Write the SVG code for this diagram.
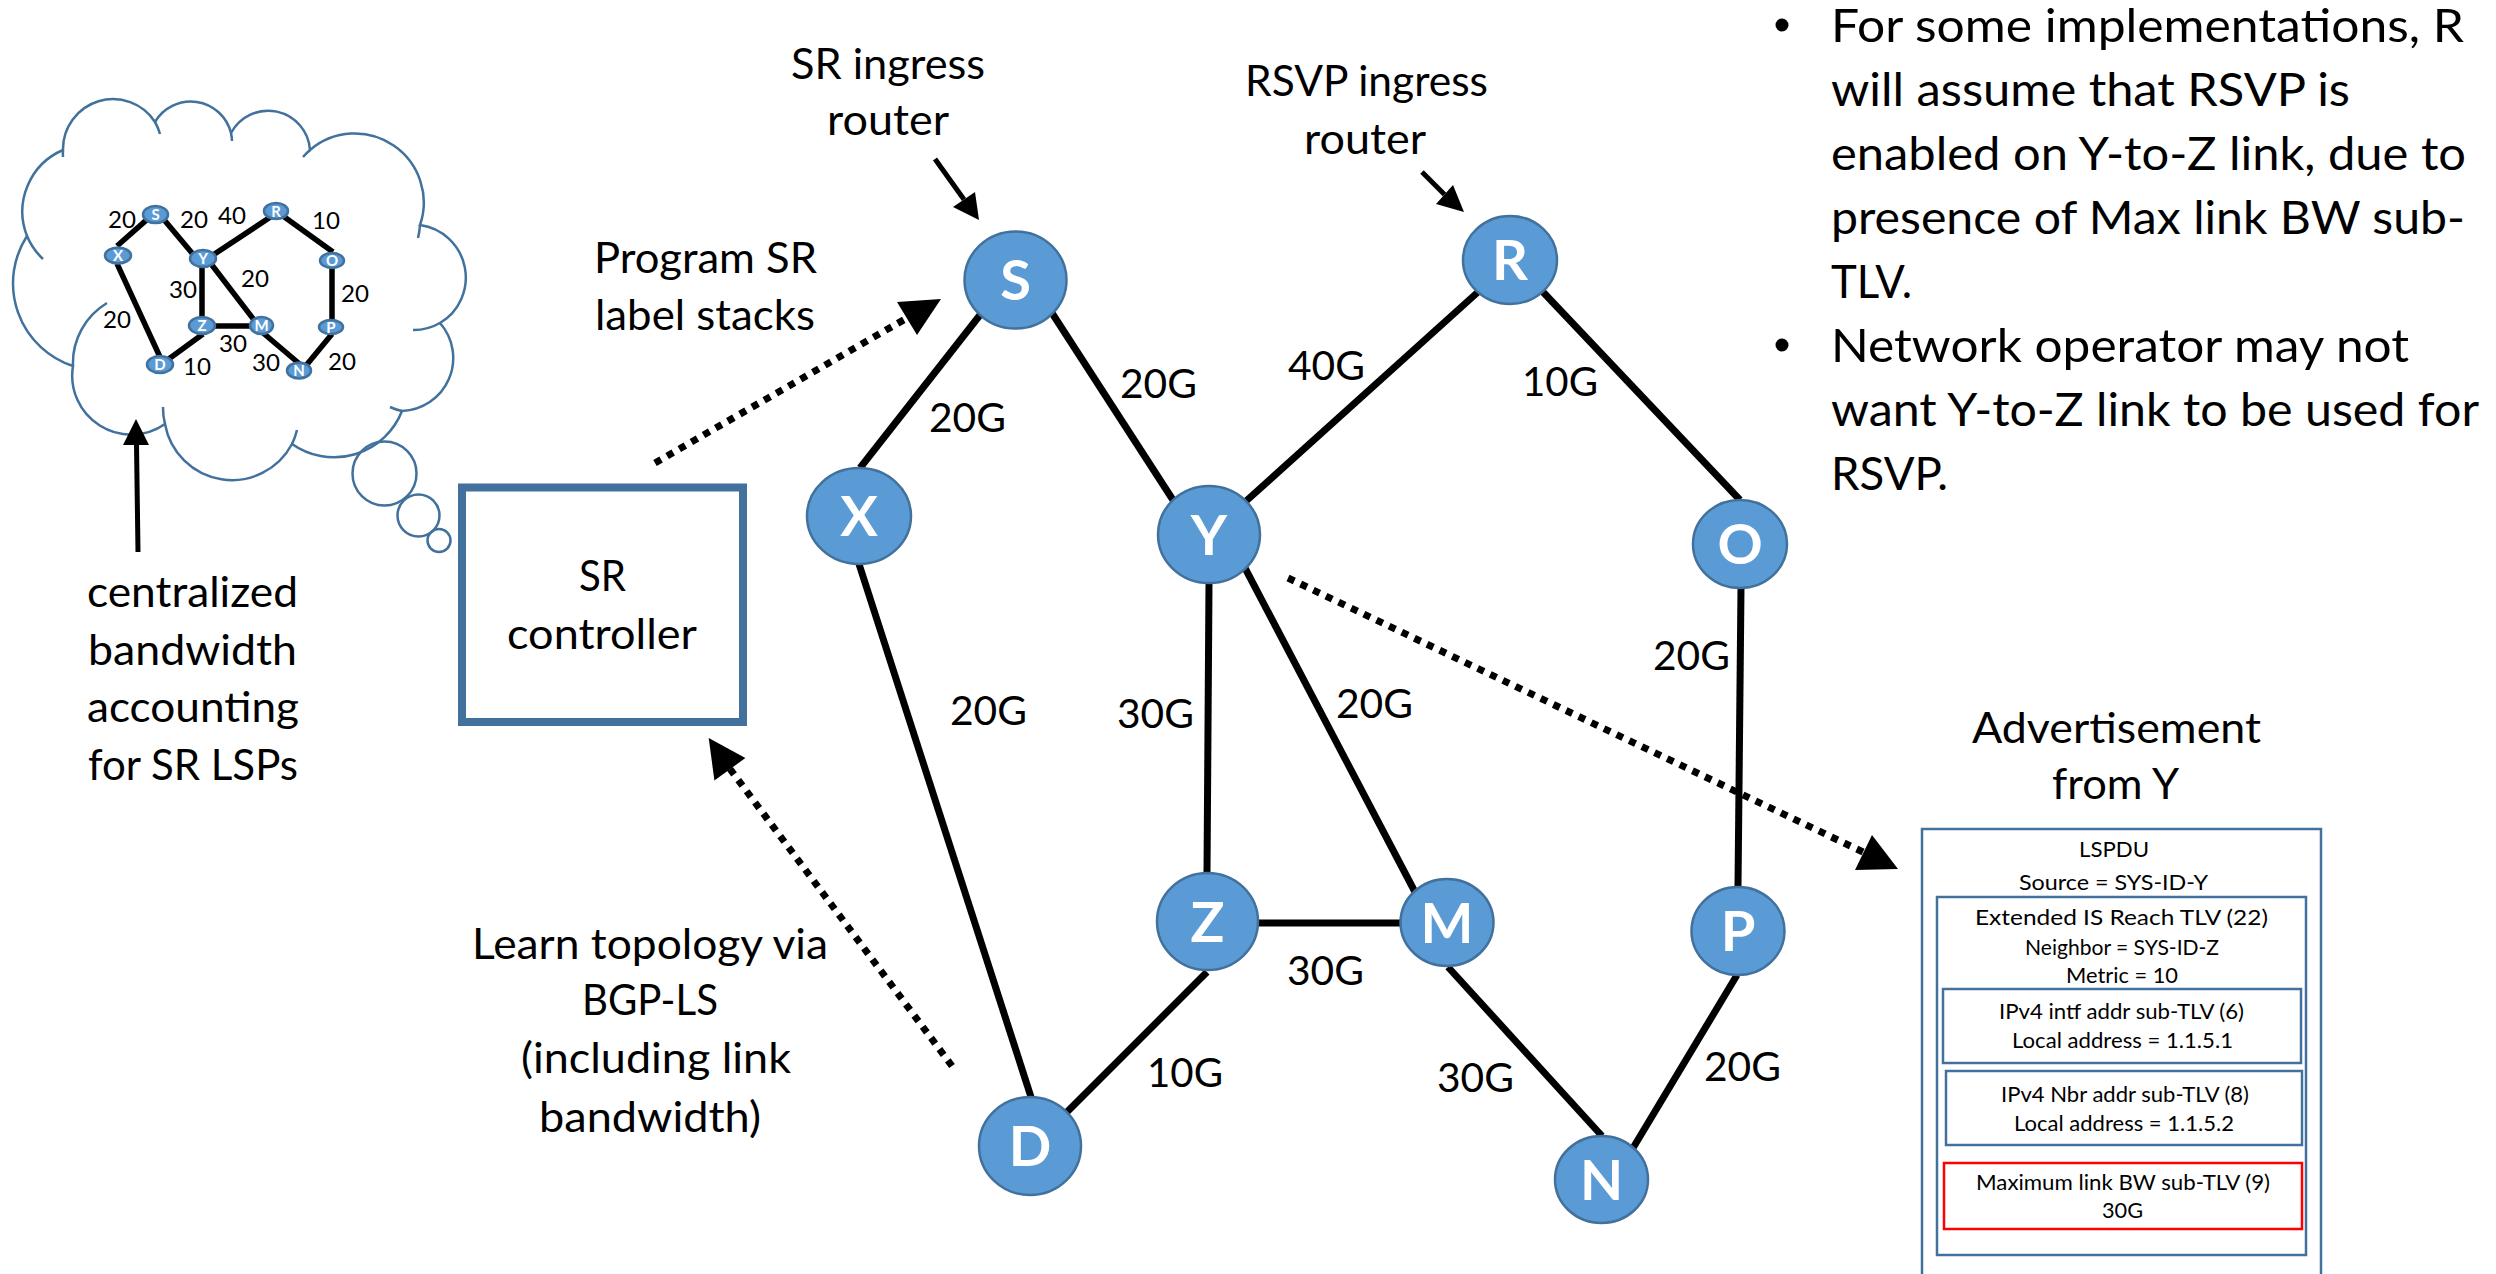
<svg xmlns="http://www.w3.org/2000/svg" width="2496" height="1274" viewBox="0 0 2496 1274">
<style>
.t{font-family:Lato,"Liberation Sans",sans-serif;fill:#000;lengthAdjust:spacingAndGlyphs}
.big{font-size:42px}
.lbl{font-size:41px}
.bul{font-size:47px}
.sm{font-size:21.5px}
.mini{font-size:24px}
.nd{fill:#5B9BD5;stroke:#41719C;stroke-width:2.5}
.nl{font-family:Lato,"Liberation Sans",sans-serif;font-weight:700;fill:#fff;font-size:56px;text-anchor:middle}
.mnl{font-family:Lato,"Liberation Sans",sans-serif;font-weight:700;fill:#fff;font-size:15px;text-anchor:middle}
.edge{stroke:#000;stroke-width:7;fill:none}
.medge{stroke:#000;stroke-width:5.5;fill:none}
.dot{stroke:#000;stroke-width:7;stroke-dasharray:7 7;fill:none}
.arr{stroke:#000;stroke-width:5;fill:none}
.cloud{fill:none;stroke:#41719C;stroke-width:2.5}
.box{fill:none;stroke:#41719C;stroke-width:2.5}
</style>

<!-- thought cloud -->
<g id="cloud">
<path class="cloud" d="M63,150 A50,50 0 0 1 155,122 A41.5,41.5 0 0 1 231,133 A42,42 0 0 1 310,150 A69,69 0 0 1 420,225 A53,53 0 0 1 440,323 A53,53 0 0 1 402,411 A73,73 0 0 1 292,444 A68,68 0 0 1 165,424 A59,59 0 0 1 73,366 A87,87 0 0 1 27,236 A67,67 0 0 1 63,150 Z"/>
<path class="cloud" d="M155,122 A50,50 0 0 1 160,134 M231,133 A41.5,41.5 0 0 1 232,141 M310,150 A69,69 0 0 0 303,157 M420,225 A69,69 0 0 1 418,238 M440,323 A53,53 0 0 1 413,330 M402,411 A53,53 0 0 1 390,407 M292,444 A68,68 0 0 0 297,430 M165,424 A68,68 0 0 1 163,407 M73,366 A70,70 0 0 1 107,303 M27,236 A67,67 0 0 0 43,259 M63,150 A50,50 0 0 0 63,157"/>
<circle class="cloud" cx="384.5" cy="473.5" r="32"/>
<circle class="cloud" cx="418.5" cy="515.5" r="21"/>
<circle class="cloud" cx="439" cy="540.5" r="11.5"/>
<g id="mini-edges">
<line class="medge" x1="148" y1="218.6" x2="117" y2="246"/>
<line class="medge" x1="163" y1="218.6" x2="197" y2="259"/>
<line class="medge" x1="210" y1="257" x2="272" y2="216"/>
<line class="medge" x1="283" y1="216" x2="333" y2="252"/>
<line class="medge" x1="332" y1="268" x2="332" y2="321"/>
<line class="medge" x1="202" y1="267" x2="202" y2="320"/>
<line class="medge" x1="210" y1="262.5" x2="258" y2="325"/>
<line class="medge" x1="213" y1="326" x2="251" y2="326"/>
<line class="medge" x1="117" y1="263.6" x2="160" y2="357"/>
<line class="medge" x1="203" y1="334" x2="166" y2="361"/>
<line class="medge" x1="262" y1="332" x2="302" y2="366"/>
<line class="medge" x1="332" y1="334" x2="304" y2="368"/>
</g>
<g id="mini-nodes">
<g id="m-S"><ellipse class="nd" cx="155.5" cy="214.6" rx="12.5" ry="8.5" stroke-width="1"/><text class="mnl" x="155.5" y="220">S</text></g>
<g id="m-X"><ellipse class="nd" cx="118" cy="255.5" rx="13" ry="8" stroke-width="1"/><text class="mnl" x="118" y="261">X</text></g>
<g id="m-Y"><ellipse class="nd" cx="203" cy="258.5" rx="13" ry="8.5" stroke-width="1"/><text class="mnl" x="203" y="264">Y</text></g>
<g id="m-R"><ellipse class="nd" cx="276" cy="211" rx="12" ry="8" stroke-width="1"/><text class="mnl" x="276" y="216.5">R</text></g>
<g id="m-O"><ellipse class="nd" cx="332" cy="260.5" rx="12" ry="7.5" stroke-width="1"/><text class="mnl" x="332" y="266">O</text></g>
<g id="m-Z"><ellipse class="nd" cx="202" cy="325.5" rx="13" ry="8.5" stroke-width="1"/><text class="mnl" x="202" y="331">Z</text></g>
<g id="m-M"><ellipse class="nd" cx="261.5" cy="325.5" rx="11.5" ry="8.5" stroke-width="1"/><text class="mnl" x="261.5" y="331">M</text></g>
<g id="m-P"><ellipse class="nd" cx="331" cy="327" rx="12" ry="7" stroke-width="1"/><text class="mnl" x="331" y="332.5">P</text></g>
<g id="m-D"><ellipse class="nd" cx="160" cy="364.5" rx="13" ry="8.5" stroke-width="1"/><text class="mnl" x="160" y="370">D</text></g>
<g id="m-N"><ellipse class="nd" cx="299" cy="370.5" rx="12" ry="8" stroke-width="1"/><text class="mnl" x="299" y="376">N</text></g>
</g>
<g id="mini-labels">
<text class="t mini" x="108" y="227.5" textLength="28" lengthAdjust="spacingAndGlyphs">20</text>
<text class="t mini" x="180" y="227.5" textLength="28" lengthAdjust="spacingAndGlyphs">20</text>
<text class="t mini" x="218" y="224" textLength="28" lengthAdjust="spacingAndGlyphs">40</text>
<text class="t mini" x="312" y="228.6" textLength="28" lengthAdjust="spacingAndGlyphs">10</text>
<text class="t mini" x="169" y="298" textLength="28" lengthAdjust="spacingAndGlyphs">30</text>
<text class="t mini" x="241" y="287" textLength="28" lengthAdjust="spacingAndGlyphs">20</text>
<text class="t mini" x="341" y="302" textLength="28" lengthAdjust="spacingAndGlyphs">20</text>
<text class="t mini" x="103" y="328" textLength="28" lengthAdjust="spacingAndGlyphs">20</text>
<text class="t mini" x="219" y="352" textLength="28" lengthAdjust="spacingAndGlyphs">30</text>
<text class="t mini" x="183" y="375" textLength="28" lengthAdjust="spacingAndGlyphs">10</text>
<text class="t mini" x="252" y="371.4" textLength="28" lengthAdjust="spacingAndGlyphs">30</text>
<text class="t mini" x="328" y="369.6" textLength="28" lengthAdjust="spacingAndGlyphs">20</text>
</g>
</g>

<g id="cloud-caption">
<text class="t big" x="87" y="607" textLength="211" lengthAdjust="spacingAndGlyphs">centralized</text>
<text class="t big" x="88" y="665" textLength="209" lengthAdjust="spacingAndGlyphs">bandwidth</text>
<text class="t big" x="87" y="722" textLength="212" lengthAdjust="spacingAndGlyphs">accounting</text>
<text class="t big" x="88" y="780" textLength="210" lengthAdjust="spacingAndGlyphs">for SR LSPs</text>
</g>

<g id="sr-controller">
<rect x="462" y="487.5" width="281" height="234.5" fill="none" stroke="#41719C" stroke-width="8"/>
<text class="t big" x="579" y="591" textLength="47" lengthAdjust="spacingAndGlyphs">SR</text>
<text class="t big" x="507" y="649" textLength="190" lengthAdjust="spacingAndGlyphs">controller</text>
</g>

<g id="annotations">
<text class="t big" x="791" y="79" textLength="194" lengthAdjust="spacingAndGlyphs">SR ingress</text>
<text class="t big" x="827" y="135" textLength="122" lengthAdjust="spacingAndGlyphs">router</text>
<text class="t big" x="1245" y="96" textLength="243" lengthAdjust="spacingAndGlyphs">RSVP ingress</text>
<text class="t big" x="1304" y="154" textLength="122" lengthAdjust="spacingAndGlyphs">router</text>
<text class="t big" x="594" y="273" textLength="223" lengthAdjust="spacingAndGlyphs">Program SR</text>
<text class="t big" x="595" y="329.5" textLength="220" lengthAdjust="spacingAndGlyphs">label stacks</text>
<text class="t big" x="472" y="959" textLength="356" lengthAdjust="spacingAndGlyphs">Learn topology via</text>
<text class="t big" x="582" y="1015" textLength="136" lengthAdjust="spacingAndGlyphs">BGP-LS</text>
<text class="t big" x="521" y="1073" textLength="270" lengthAdjust="spacingAndGlyphs">(including link</text>
<text class="t big" x="539" y="1131.5" textLength="222" lengthAdjust="spacingAndGlyphs">bandwidth)</text>
</g>

<g id="bullets">
<circle cx="1782" cy="25" r="6.5" fill="#000"/>
<circle cx="1782" cy="345" r="6.5" fill="#000"/>
<text class="t bul" x="1831" y="42" textLength="633" lengthAdjust="spacingAndGlyphs">For some implementations, R</text>
<text class="t bul" x="1831" y="106" textLength="519" lengthAdjust="spacingAndGlyphs">will assume that RSVP is</text>
<text class="t bul" x="1831" y="170" textLength="635" lengthAdjust="spacingAndGlyphs">enabled on Y-to-Z link, due to</text>
<text class="t bul" x="1831" y="234" textLength="634" lengthAdjust="spacingAndGlyphs">presence of Max link BW sub-</text>
<text class="t bul" x="1831" y="298" textLength="81" lengthAdjust="spacingAndGlyphs">TLV.</text>
<text class="t bul" x="1831" y="362" textLength="578" lengthAdjust="spacingAndGlyphs">Network operator may not</text>
<text class="t bul" x="1831" y="426" textLength="648" lengthAdjust="spacingAndGlyphs">want Y-to-Z link to be used for</text>
<text class="t bul" x="1831" y="490" textLength="117" lengthAdjust="spacingAndGlyphs">RSVP.</text>
</g>

<g id="connectors">
<line class="edge" x1="980" y1="315" x2="860" y2="468"/>
<line class="edge" x1="1052" y1="313" x2="1173" y2="500"/>
<line class="edge" x1="1478" y1="292" x2="1245" y2="502"/>
<line class="edge" x1="1543" y1="292" x2="1740" y2="500"/>
<line class="edge" x1="859" y1="564" x2="1031" y2="1097"/>
<line class="edge" x1="1209" y1="583" x2="1207" y2="873"/>
<line class="edge" x1="1245" y1="568" x2="1415" y2="892"/>
<line class="edge" x1="1258" y1="923" x2="1400" y2="923"/>
<line class="edge" x1="1207" y1="972" x2="1066" y2="1113"/>
<line class="edge" x1="1448" y1="967" x2="1602" y2="1136"/>
<line class="edge" x1="1737" y1="975" x2="1633" y2="1148"/>
<line class="edge" x1="1741" y1="588" x2="1738" y2="887"/>
<path class="dot" d="M655,463 L907,318"/>
<polygon points="897,302 941,299 917,335" fill="#000"/>
<path class="dot" d="M952,1066 L730,769"/>
<polygon points="708.7,738 745.4,758 714.4,780.5" fill="#000"/>
<path class="dot" d="M1288,578 L1863,852"/>
<polygon points="1855,870 1898,869 1872,835" fill="#000"/>
<line class="arr" x1="935" y1="159" x2="964" y2="199.5"/>
<polygon points="953,207 975,192 979,220" fill="#000"/>
<line class="arr" x1="1422" y1="172" x2="1444.5" y2="194.5"/>
<polygon points="1436,204 1453,185 1464,212" fill="#000"/>
<line class="arr" x1="138" y1="552" x2="136.5" y2="444"/>
<polygon points="123,445 149,445 136,419" fill="#000"/>
</g>

<g id="edge-labels">
<text class="t lbl" x="929" y="432" textLength="77" lengthAdjust="spacingAndGlyphs">20G</text>
<text class="t lbl" x="1120" y="398" textLength="77" lengthAdjust="spacingAndGlyphs">20G</text>
<text class="t lbl" x="1288" y="380" textLength="77" lengthAdjust="spacingAndGlyphs">40G</text>
<text class="t lbl" x="1522" y="396" textLength="76" lengthAdjust="spacingAndGlyphs">10G</text>
<text class="t lbl" x="950" y="725" textLength="77" lengthAdjust="spacingAndGlyphs">20G</text>
<text class="t lbl" x="1117" y="728" textLength="77" lengthAdjust="spacingAndGlyphs">30G</text>
<text class="t lbl" x="1336" y="718" textLength="77" lengthAdjust="spacingAndGlyphs">20G</text>
<text class="t lbl" x="1653" y="670" textLength="77" lengthAdjust="spacingAndGlyphs">20G</text>
<text class="t lbl" x="1287" y="985" textLength="77" lengthAdjust="spacingAndGlyphs">30G</text>
<text class="t lbl" x="1147" y="1087" textLength="76" lengthAdjust="spacingAndGlyphs">10G</text>
<text class="t lbl" x="1437" y="1092" textLength="77" lengthAdjust="spacingAndGlyphs">30G</text>
<text class="t lbl" x="1704" y="1081" textLength="77" lengthAdjust="spacingAndGlyphs">20G</text>
</g>

<g id="node-S"><ellipse class="nd" cx="1015.5" cy="280" rx="51" ry="48.5"/><text class="nl" x="1015.5" y="300">S</text></g>
<g id="node-X"><ellipse class="nd" cx="859" cy="516" rx="52" ry="48"/><text class="nl" x="859" y="536">X</text></g>
<g id="node-Y"><ellipse class="nd" cx="1209" cy="534.5" rx="51" ry="48.5"/><text class="nl" x="1209" y="554.5">Y</text></g>
<g id="node-R"><ellipse class="nd" cx="1510" cy="260" rx="47" ry="44"/><text class="nl" x="1510" y="280">R</text></g>
<g id="node-O"><ellipse class="nd" cx="1740" cy="544" rx="47" ry="44"/><text class="nl" x="1740" y="564">O</text></g>
<g id="node-Z"><ellipse class="nd" cx="1207.5" cy="921.5" rx="50.5" ry="48.5"/><text class="nl" x="1207.5" y="941.5">Z</text></g>
<g id="node-M"><ellipse class="nd" cx="1447" cy="922.5" rx="46.5" ry="43.5"/><text class="nl" x="1447" y="942.5">M</text></g>
<g id="node-P"><ellipse class="nd" cx="1738" cy="931" rx="46.5" ry="44"/><text class="nl" x="1738" y="951">P</text></g>
<g id="node-D"><ellipse class="nd" cx="1030" cy="1146" rx="51" ry="49"/><text class="nl" x="1030" y="1166">D</text></g>
<g id="node-N"><ellipse class="nd" cx="1601.5" cy="1179.5" rx="46.5" ry="43.5"/><text class="nl" x="1601.5" y="1199.5">N</text></g>

<g id="advertisement">
<text class="t big" x="1972" y="742.5" textLength="289" lengthAdjust="spacingAndGlyphs">Advertisement</text>
<text class="t big" x="2052" y="799" textLength="127" lengthAdjust="spacingAndGlyphs">from Y</text>
<rect class="box" x="1922" y="829" width="399" height="470"/>
<text class="t sm" x="2079" y="857" textLength="70" lengthAdjust="spacingAndGlyphs">LSPDU</text>
<text class="t sm" x="2019" y="889.5" textLength="189" lengthAdjust="spacingAndGlyphs">Source = SYS-ID-Y</text>
<rect class="box" x="1937" y="897" width="369" height="358"/>
<text class="t sm" x="1975" y="925" textLength="293" lengthAdjust="spacingAndGlyphs">Extended IS Reach TLV (22)</text>
<text class="t sm" x="2025" y="954.6" textLength="194" lengthAdjust="spacingAndGlyphs">Neighbor = SYS-ID-Z</text>
<text class="t sm" x="2066" y="983" textLength="112" lengthAdjust="spacingAndGlyphs">Metric = 10</text>
<rect class="box" x="1943" y="989" width="358" height="74"/>
<text class="t sm" x="1999" y="1019" textLength="245" lengthAdjust="spacingAndGlyphs">IPv4 intf addr sub-TLV (6)</text>
<text class="t sm" x="2012" y="1048" textLength="221" lengthAdjust="spacingAndGlyphs">Local address = 1.1.5.1</text>
<rect class="box" x="1946" y="1071" width="356" height="74"/>
<text class="t sm" x="2001" y="1101.6" textLength="248" lengthAdjust="spacingAndGlyphs">IPv4 Nbr addr sub-TLV (8)</text>
<text class="t sm" x="2014" y="1131" textLength="220" lengthAdjust="spacingAndGlyphs">Local address = 1.1.5.2</text>
<rect x="1944" y="1163" width="358" height="66" fill="none" stroke="#FF0000" stroke-width="2.5"/>
<text class="t sm" x="1976" y="1189.5" textLength="294" lengthAdjust="spacingAndGlyphs">Maximum link BW sub-TLV (9)</text>
<text class="t sm" x="2102" y="1218" textLength="41" lengthAdjust="spacingAndGlyphs">30G</text>
</g>
</svg>
